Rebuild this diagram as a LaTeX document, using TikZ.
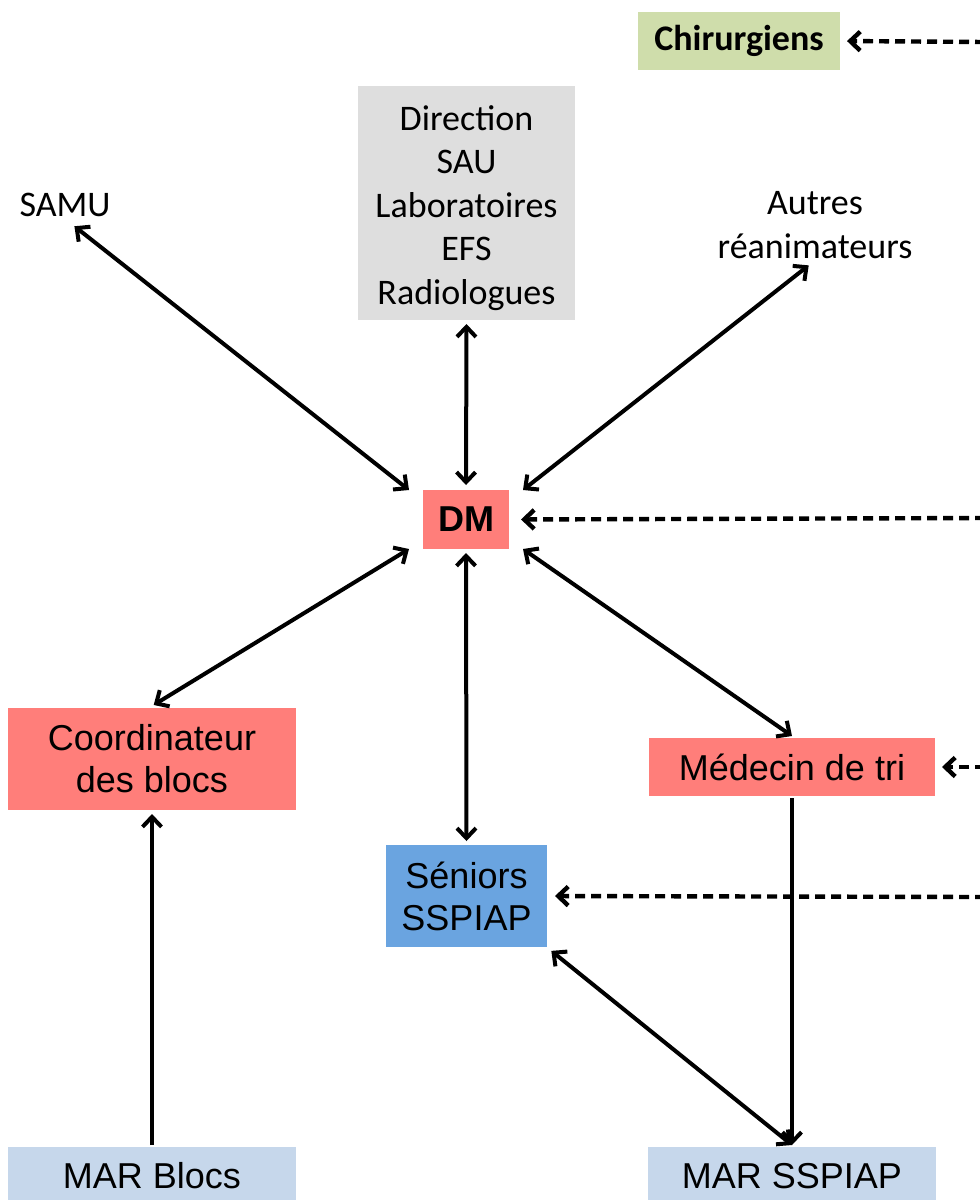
\documentclass[tikz,border=0pt]{standalone}
\usepackage{fontspec}
\setmainfont{Carlito}
\newfontfamily\arialfont{Liberation Sans}
\usetikzlibrary{arrows.meta}
\definecolor{rouge}{RGB}{255,126,122}
\definecolor{bleu}{RGB}{106,164,224}
\definecolor{bleuclair}{RGB}{198,215,235}
\definecolor{vert}{RGB}{207,221,171}
\definecolor{gris}{RGB}{222,222,222}
\begin{document}
\begin{tikzpicture}[x=0.5pt,y=-0.5pt,
    every node/.style={font=\fontsize{18}{21.75}\selectfont,align=center,inner sep=0pt},
    arialtxt/.style={font=\arialfont\fontsize{18}{21}\selectfont},
    rougebox/.style={arialtxt,fill=rouge},
    marbox/.style={arialtxt,fill=bleuclair,minimum width=144pt,minimum height=29pt},
    >={Straight Barb[length=5pt,width=9.5pt]},line width=2pt]
      \useasboundingbox (0,0) rectangle (980,1200);
      \clip (0,0) rectangle (980,1200);
      \draw
        (739,41) node[fill=vert,minimum width=101pt,minimum height=29pt,font=\bfseries\fontsize{18}{21.75}\selectfont] (chir){Chirurgiens}
        (466.5,203) node[fill=gris,minimum width=108.5pt,minimum height=117pt] (direction){\rule{0pt}{17.5pt}Direction\\SAU\\Laboratoires\\EFS\\Radiologues}
        (65,205) node (samu){SAMU}
        (815,225) node (autres){Autres\\réanimateurs}
        (466,519.5) node[rougebox,minimum width=43pt,minimum height=29.5pt,font=\arialfont\bfseries\fontsize{18}{21}\selectfont] (dm){DM}
        (152,759) node[rougebox,minimum width=144pt,minimum height=51pt] (coord){Coordinateur\\des blocs}
        (792,767) node[rougebox,minimum width=143pt,minimum height=29pt] (medtri){Médecin de tri}
        (466.5,896) node[arialtxt,fill=bleu,minimum width=80.5pt,minimum height=51pt] (seniors){Séniors\\SSPIAP}
        (152,1176) node[marbox] (marblocs){MAR Blocs}
        (792,1176) node[marbox] (marsspiap){MAR SSPIAP};
      \coordinate (bord1) at (985,42);
      \coordinate (bord2) at (985,518);
      \coordinate (bord3) at (985,767);
      \coordinate (bord4) at (985,897);
      \begin{scope}[<->]
        \draw[shorten <=6pt] (samu.south) to ([xshift=-6pt,yshift=-1pt]dm.north west);
        \draw[shorten <=1pt,shorten >=1.5pt] (direction.south) to (dm.north);
        \draw[shorten <=4pt] (autres.south) to ([xshift=6pt,yshift=-1pt]dm.north east);
        \draw[shorten >=1pt] ([xshift=-6pt,yshift=1pt]dm.south west) to (coord.north);
        \draw[shorten <=1pt,shorten >=1pt] (dm.south) to (seniors.north);
        \draw ([xshift=6pt,yshift=1pt]dm.south east) to (medtri.north);
        \draw[shorten >=1.5pt] (marsspiap.north) to (seniors.south east);
      \end{scope}
      \begin{scope}[->]
        \draw[shorten >=1pt] (marblocs.north) to (coord.south);
        \draw (medtri.south) to (marsspiap.north);
      \end{scope}
      \begin{scope}[->,line width=2.2pt,dash pattern=on 5pt off 3pt]
        \draw[shorten >=2.5pt] (bord1) to (chir.east);
        \draw[shorten >=5pt] (bord2) to (dm.east);
        \draw[shorten >=2.5pt] (bord3) to (medtri.east);
        \draw[shorten >=3pt] (bord4) to (seniors.east);
      \end{scope}
    \end{tikzpicture}
\end{document}
